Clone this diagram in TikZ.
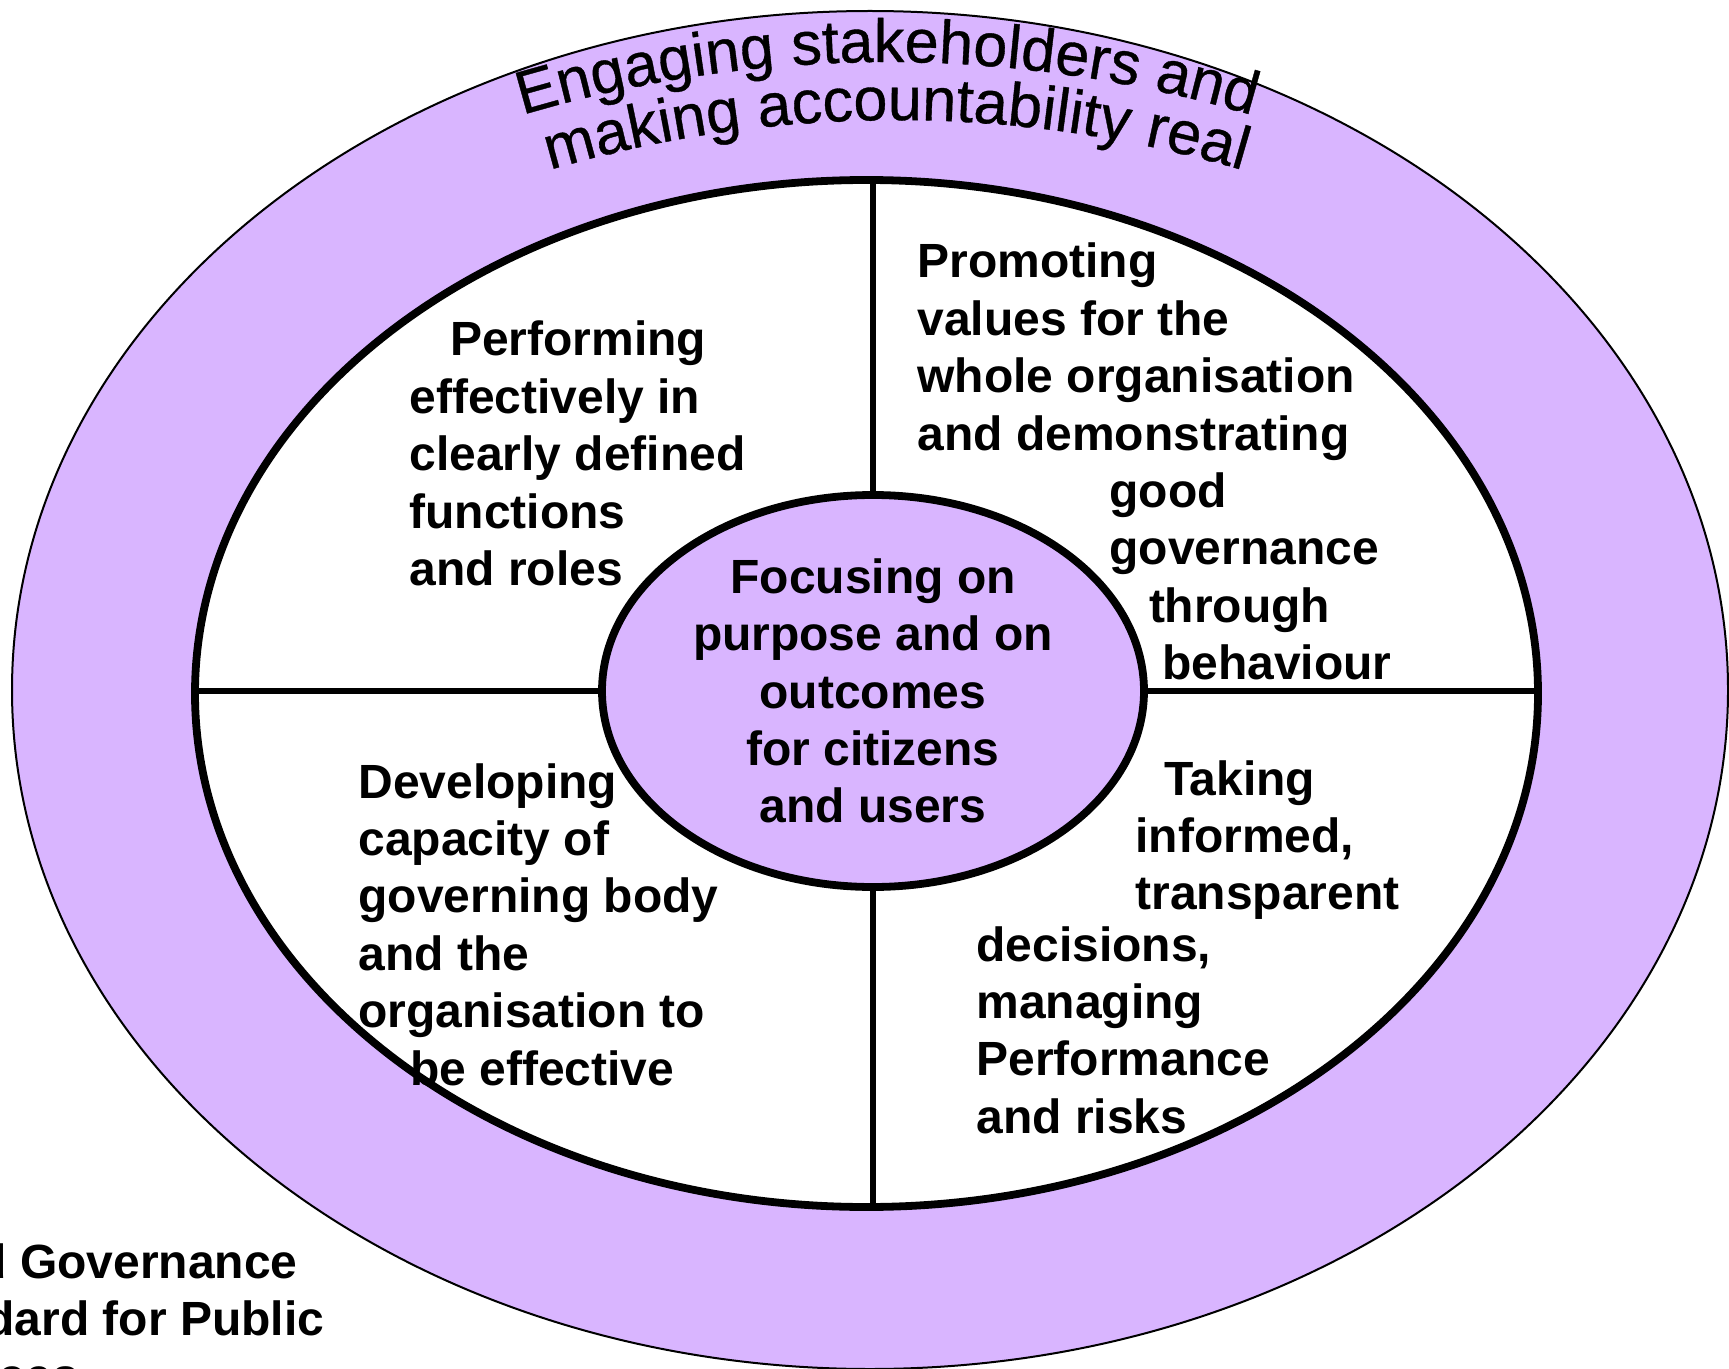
\documentclass[tikz,border=0pt]{standalone}
\usepackage{fontspec}
\setmainfont{Liberation Sans}
\newfontfamily\ringfamily[FakeBold=0.6]{Liberation Sans}
\usetikzlibrary{shapes.geometric,decorations.text}
\definecolor{lilac}{RGB}{217,181,255}
\newcommand\ringtextfont{\ringfamily\fontsize{30.5}{36}\selectfont}
% stacked lines whose baseline is that of the first line
\newcommand\leftlines[1]{\vtop{\halign{##\hfil\cr#1\crcr}}}
\newcommand\midlines[1]{\vtop{\halign{\hfil##\hfil\cr#1\crcr}}}
\begin{document}
\begin{tikzpicture}[x=0.5pt,y=0.5pt,
  ring/.style={ellipse, inner sep=0pt, outer sep=0pt},
  caption/.style={font=\fontsize{24}{28.7}\selectfont\bfseries, inner sep=0pt, anchor=base west},
  divider/.style={line width=2.9pt}]
\useasboundingbox (0,0) rectangle (1729,-1369);
\clip (0,0) rectangle (1729,-1369);

% outer ring and the white field inside it
\node[ring, draw, line width=1pt, fill=lilac, minimum width=858pt, minimum height=679pt] (outer) at (870,-690) {};
\node[ring, draw, line width=3.9pt, fill=white, minimum width=671.5pt, minimum height=513.5pt] (inner) at (866.5,-693.5) {};

% central core
\node[ring, draw, line width=3.9pt, fill=lilac, minimum width=271pt, minimum height=196pt,
      font=\fontsize{24}{28.7}\selectfont\bfseries] (core) at (873,-691)
  {\midlines{Focusing on\cr purpose and on\cr outcomes\cr for citizens\cr and users}};

% quadrant dividers
\draw[divider] (core.north) -- (core.north |- inner.north);
\draw[divider] (core.south) -- (core.south |- inner.south);
\draw[divider] (core.west) -- (core.west -| inner.west);
\draw[divider] (core.east) -- (core.east -| inner.east);

% quadrant texts
\node[caption] (perform) at (409,-356)
  {\leftlines{\kern20.4pt Performing\cr effectively in\cr clearly defined\cr functions\cr and roles}};
\node[caption] (values) at (917,-278)
  {\leftlines{Promoting\cr values for the\cr whole organisation\cr and demonstrating\cr
   \kern96pt good\cr \kern96pt governance\cr \kern115.8pt through\cr \kern122.4pt behaviour}};
\node[caption] (capacity) at (358,-798)
  {\leftlines{Developing\cr capacity of\cr governing body\cr and the\cr organisation to\cr \kern25.9pt be effective}};
\node[caption] (informed) at (1135,-795)
  {\leftlines{\kern14.3pt Taking\cr informed,\cr transparent}};
\node[caption] (risks) at (976,-961)
  {\leftlines{decisions,\cr managing\cr Performance\cr and risks}};

% source note in the lower left corner
\node[caption] (source) at (-119,-1278)
  {\leftlines{Good Governance\cr Standard for Public\cr Services}};

% arched title in the ring
\path[decorate, decoration={text along path, text align=center,
      text={|\ringtextfont|Engaging stakeholders and}}]
  (887,-1342) ++(120:640pt) arc[start angle=120, end angle=60, radius=640pt];
\path[decorate, decoration={text along path, text align=center,
      text={|\ringtextfont|making accountability real}}]
  (896,-1342) ++(122:611pt) arc[start angle=122, end angle=58, radius=611pt];
\end{tikzpicture}
\end{document}
